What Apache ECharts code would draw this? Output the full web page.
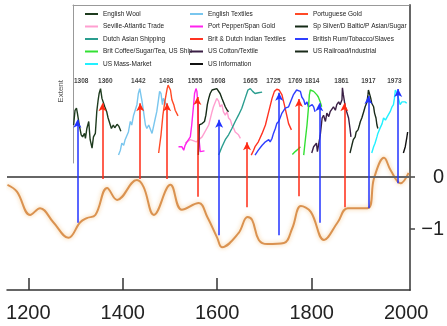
<!DOCTYPE html>
<html><head><meta charset="utf-8">
<script src="https://cdn.jsdelivr.net/npm/echarts@6/dist/echarts.min.js"></script>
<style>html,body{margin:0;padding:0;background:#fff}#c{width:447px;height:326px}</style>
</head><body><div id="c"></div>
<script>
// ---- data ----
const xTickYears = [1200, 1400, 1600, 1800, 2000];
const yTickValues = [0, -1];

const longWave = [[1156,-0.15],[1176,-0.28],[1204,-0.73],[1225,-0.60],[1253,-0.87],[1285,-1.17],[1310,-0.87],[1324,-0.79],[1342,-0.73],[1367,-0.21],[1388,-0.44],[1430,-0.06],[1444,-0.19],[1466,-0.73],[1501,-0.15],[1525,-0.63],[1561,-0.50],[1579,-0.77],[1600,-1.17],[1610,-1.35],[1645,-1.08],[1664,-0.77],[1674,-0.83],[1688,-1.21],[1706,-1.29],[1741,-1.27],[1759,-0.98],[1777,-0.56],[1798,-0.67],[1826,-1.21],[1855,-0.87],[1876,-0.60],[1918,-0.60],[1932,-0.02],[1953,0.37],[1967,0.13],[1988,-0.12],[2005,0.08]];

const englishWool = [[1296,.50],[1299,.71],[1302,.74],[1304,.67],[1308,.50],[1312,.36],[1315,.33],[1319,.38],[1321,.31],[1324,.45],[1328,.55],[1331,.29],[1335,.17],[1338,.33],[1342,.38],[1345,.69],[1348,.86],[1350,.95],[1353,1.02],[1356,.88],[1359,.90],[1362,.76],[1366,.69],[1369,.60],[1373,.62],[1376,.45],[1380,.50],[1383,.46],[1388,.51],[1392,.48],[1396,.41]];
const englishTextiles = [[1391,.07],[1395,.14],[1398,.24],[1402,.21],[1405,.29],[1409,.31],[1412,.40],[1416,.55],[1419,.50],[1423,.64],[1426,.62],[1430,.79],[1433,.95],[1436,1.02],[1439,1.00],[1441,.83],[1444,.69],[1448,.50],[1451,.45],[1455,.50],[1458,.52],[1462,.38],[1465,.40],[1469,.60],[1472,.69],[1476,.88],[1478,.98],[1481,.95],[1484,.79],[1486,.88],[1490,.83],[1494,.74]];
const portugueseGold = [[1476,.10],[1481,.36],[1485,.64],[1489,.83],[1494,1.02],[1496,1.07],[1501,1.00],[1504,.86],[1508,.79],[1511,.71],[1515,.69],[1517,.63]];
const sevilleAtlantic = [[1532,.24],[1543,.29],[1556,.26],[1568,.33],[1582,.50],[1589,.69],[1592,.76],[1596,.83],[1599,.88],[1603,.84],[1606,.76],[1610,.79],[1613,.69],[1617,.64],[1621,.69],[1624,.60],[1628,.57],[1631,.50],[1635,.45],[1638,.40],[1642,.38],[1645,.36],[1649,.31]];
const portPepper = [[1518,.19],[1522,.21],[1525,.19],[1529,.14],[1532,.21],[1536,.26],[1539,.24],[1543,.33],[1546,.50],[1550,.79],[1552,.95],[1555,1.02],[1557,.98],[1559,.79],[1560,.50],[1562,.26],[1564,.12],[1568,.12],[1573,.13]];
const spSilver = [[1560,.07],[1562,.50],[1568,.52],[1573,.55],[1576,.64],[1579,.79],[1582,.88],[1585,.95],[1589,1.00],[1592,1.02],[1599,1.02],[1603,1.00],[1606,.95],[1610,.88],[1613,.83],[1617,.76],[1621,.71],[1624,.69]];
const dutchAsian = [[1603,.07],[1610,.19],[1617,.29],[1624,.36],[1631,.45],[1638,.55],[1645,.64],[1652,.74],[1659,.88],[1665,1.00],[1670,1.02],[1675,.98],[1680,.95],[1687,.96],[1695,.97]];
const britDutchTextiles = [[1672,.07],[1677,.14],[1680,.19],[1687,.26],[1695,.38],[1702,.50],[1709,.69],[1716,.88],[1721,.98],[1726,1.01],[1731,1.00],[1737,.93],[1742,.79],[1747,.64],[1751,.52],[1757,.43]];
const britishRum = [[1680,.07],[1687,.14],[1695,.21],[1698,.19],[1702,.26],[1705,.24],[1709,.29],[1712,.26],[1716,.31],[1719,.38],[1723,.45],[1726,.52],[1730,.55],[1733,.60],[1737,.67],[1740,.69],[1744,.74],[1747,.74],[1751,.76],[1755,.83],[1758,.88],[1761,.93],[1765,.95],[1768,1.00],[1772,1.01],[1776,.98],[1779,.90],[1783,.86],[1786,.79],[1790,.83],[1793,.76],[1797,.74],[1801,.79],[1804,.76],[1807,.69]];
const britCoffee = [[1759,.08],[1765,.12],[1772,.16],[1776,.19],[1779,'-'],[1783,.07],[1786,.26],[1790,.50],[1793,.74],[1795,.93],[1797,1.00],[1801,1.01],[1804,.98],[1807,1.00],[1811,.93],[1814,.90],[1818,.83],[1821,.76]];
const usCotton = [[1800,.10],[1804,.19],[1807,.17],[1810,.24],[1812,.12],[1814,.10],[1818,.35],[1822,.60],[1825,.64],[1829,.55],[1832,.67],[1836,.62],[1839,.69],[1843,.67],[1846,.76],[1850,.71],[1853,.79],[1857,.83],[1860,.79],[1864,.86],[1865,1.03],[1867,.93],[1871,.76],[1874,.69],[1878,.60],[1881,.45],[1883,.33]];
const usRailroad = [[1881,.10],[1885,.21],[1888,.29],[1892,.33],[1894,.40],[1898,.43],[1901,.50],[1903,.55],[1906,.60],[1910,.69],[1913,.76],[1917,.83],[1919,.93],[1920,1.00],[1923,.93],[1925,.88],[1927,.81],[1931,.76],[1933,.67],[1936,.60],[1938,.50],[1940,.45]];
const usMassMarket = [[1927,.10],[1931,.19],[1934,.24],[1938,.33],[1940,.38],[1943,.43],[1945,.45],[1949,.52],[1952,.60],[1956,.57],[1960,.62],[1963,.64],[1966,.69],[1970,.76],[1973,.79],[1975,.88],[1977,1.00],[1979,1.02],[1981,.95],[1984,.93],[1987,.79],[1991,.83],[1994,.81],[1998,.83],[2001,.81]];
const usInformation = [[1994,.10],[1998,.19],[2001,.31],[2003,.40]];

const arrowYears = [1304,1357,1437,1494,1558,1604,1663,1731,1773,1816,1869,1920,1983];
const arrowBase  = [-0.88,-0.04,-0.04,-0.04,-0.38,-1.12,-0.58,-1.12,-0.37,-0.88,-0.58,-0.60,-0.12];
const arrowTip   = [1.10,1.42,1.42,1.42,1.54,1.10,0.67,1.62,1.50,1.42,1.42,1.56,1.69];
const arrowKind  = ['b','r','r','r','r','b','r','b','r','b','r','b','b'];

const peakLabels = ['1308','1360','1442','1498','1555','1608','1665','1725','1769','1814','1861','1917','1973'];
const peakLabelYears = [1312,1363,1433,1492,1553,1602,1670,1719,1765,1801,1863,1920,1975];
const peakLabelLevel = 1.846;

// ---- build ----
const FONT = 'Liberation Sans, Arial, sans-serif';
const topSeries = [
  {name:'English Wool', data:englishWool, color:'#1e3b1e'},
  {name:'English Textiles', data:englishTextiles, color:'#79c6ee'},
  {name:'Portuguese Gold', data:portugueseGold, color:'#ff4a26'},
  {name:'Seville-Atlantic Trade', data:sevilleAtlantic, color:'#ff9fd0'},
  {name:'Port Pepper/Span Gold', data:portPepper, color:'#ff22ee'},
  {name:'Sp Silver/D Baltic/P Asian/Sugar', data:spSilver, color:'#142a16'},
  {name:'Dutch Asian Shipping', data:dutchAsian, color:'#2a9d8f'},
  {name:'Brit & Dutch Indian Textiles', data:britDutchTextiles, color:'#ff3322'},
  {name:'British Rum/Tobacco/Slaves', data:britishRum, color:'#2f3fff'},
  {name:'Brit Coffee/Sugar/Tea, US Ship', data:britCoffee, color:'#33e033'},
  {name:'US Cotton/Textile', data:usCotton, color:'#3a1f45'},
  {name:'US Railroad/Industrial', data:usRailroad, color:'#1a2a1a'},
  {name:'US Mass-Market', data:usMassMarket, color:'#22f0ff'},
  {name:'US Information', data:usInformation, color:'#111111'}
];
const legendCols = [
  ['English Wool','Seville-Atlantic Trade','Dutch Asian Shipping','Brit Coffee/Sugar/Tea, US Ship','US Mass-Market'],
  ['English Textiles','Port Pepper/Span Gold','Brit & Dutch Indian Textiles','US Cotton/Textile','US Information'],
  ['Portuguese Gold','Sp Silver/D Baltic/P Asian/Sugar','British Rum/Tobacco/Slaves','US Railroad/Industrial']
];
const legendLefts = [85, 190, 295];

const series = [];
series.push({
  type:'line', name:'long wave', data: longWave, smooth: 0.4, showSymbol:false, z:3,
  lineStyle:{color:'#da9250', width:2, shadowColor:'rgba(245,195,130,0.9)', shadowBlur:4},
  markLine:{silent:true, symbol:['none','none'], label:{show:false},
    lineStyle:{color:'#666', width:2.2, type:'solid'}, data:[{yAxis:0}]}
});
topSeries.forEach(s => series.push({
  type:'line', name:s.name, data:s.data, yAxisIndex:1, showSymbol:false, z:4,
  connectNulls:false, itemStyle:{color:s.color}, lineStyle:{color:s.color, width:1.4}
}));
series.push({
  type:'line', name:'arrows', data:[], z:6,
  markLine:{silent:true, symbol:['none','arrow'], symbolSize:[6,8], label:{show:false},
    data: arrowYears.map((y,i)=>[
      {coord:[y, arrowBase[i]], lineStyle:{color: arrowKind[i]==='b' ? '#2233ff' : '#ff2a14', width:1.5, type:'solid'}},
      {coord:[y, arrowTip[i]]}
    ])}
});
series.push({
  type:'scatter', name:'peaks', symbolSize:0, z:7,
  data: peakLabelYears.map((y,i)=>({value:[y, peakLabelLevel], name:peakLabels[i]})),
  label:{show:true, position:'inside', formatter:p=>p.name, fontSize:6.5, fontWeight:'bold', color:'#111', fontFamily:FONT}
});

const option = {
  animation:false,
  backgroundColor:'#fff',
  grid:[
    {left:7, right:37, top:5, bottom:36},
    {left:73, right:38, top:5, height:158}
  ],
  xAxis:[
    {type:'value', gridIndex:0, min:1155, max:2008,
     axisLine:{show:true, onZero:false, lineStyle:{color:'#333', width:1.5}},
     axisTick:{show:true, inside:true, length:12, customValues:[1200,1400,1600,1800], lineStyle:{color:'#333', width:1.5}},
     axisLabel:{customValues:xTickYears, fontSize:20, color:'#222', margin:13, fontFamily:FONT, formatter:v=>String(v)},
     splitLine:{show:false}},
    {type:'value', gridIndex:1, position:'top', min:0, max:1,
     axisLine:{show:true, onZero:false, lineStyle:{color:'#999', width:1}}, axisTick:{show:false}, axisLabel:{show:false}, splitLine:{show:false}}
  ],
  yAxis:[
    {type:'value', gridIndex:0, position:'right', min:-2.1731, max:3.3077,
     axisLine:{show:true, onZero:false, lineStyle:{color:'#666', width:2}},
     axisTick:{show:true, length:5, customValues:yTickValues, lineStyle:{color:'#444', width:1.5}},
     axisLabel:{customValues:yTickValues, fontSize:20, color:'#222', align:'right', margin:34, fontFamily:FONT,
       formatter:v => v < 0 ? '\u2212' + Math.abs(v) : String(v)},
     splitLine:{show:false}},
    {type:'value', gridIndex:0, min:-1.857, max:2.214, show:false},
    {type:'value', gridIndex:1, position:'left', min:0, max:1,
     axisLine:{show:true, onZero:false, lineStyle:{color:'#999', width:1}}, axisTick:{show:false}, axisLabel:{show:false}, splitLine:{show:false}}
  ],
  legend: legendCols.map((col,i)=>({
    data: col, orient:'vertical', left: legendLefts[i], top:10, padding:0,
    icon:'rect', itemWidth:13, itemHeight:2, itemGap:4.5, selectedMode:false,
    textStyle:{fontSize:6.5, lineHeight:8, color:'#222', fontFamily:FONT}
  })),
  graphic:[{type:'text', left:57, top:80, rotation:Math.PI/2,
    style:{text:'Extent', fontSize:8, fill:'#555', fontFamily:FONT}}],
  series
};
const chart = echarts.init(document.getElementById('c'));
chart.setOption(option);
</script></body></html>
